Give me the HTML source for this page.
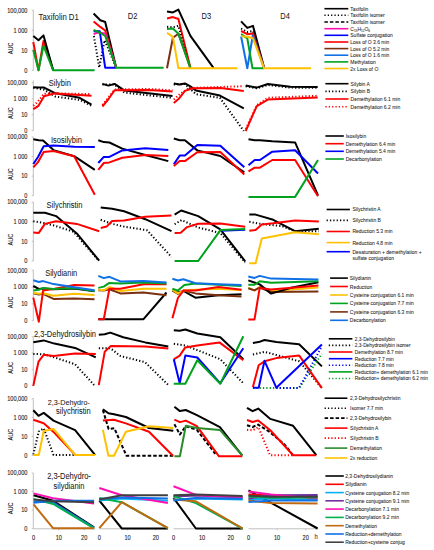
<!DOCTYPE html>
<html><head><meta charset="utf-8"><style>
html,body{margin:0;padding:0;background:#fff;width:434px;height:550px;overflow:hidden}
svg{display:block;font-family:"Liberation Sans",sans-serif}
</style></head><body>
<svg width="434" height="550" viewBox="0 0 434 550">
<rect width="434" height="550" fill="#fff"/>
<line x1="33.3" y1="10.2" x2="33.3" y2="70.4" stroke="#BFBFBF" stroke-width="1"/>
<line x1="31.7" y1="10.2" x2="33.3" y2="10.2" stroke="#BFBFBF" stroke-width="1"/>
<line x1="31.7" y1="30.3" x2="33.3" y2="30.3" stroke="#BFBFBF" stroke-width="1"/>
<line x1="31.7" y1="50.3" x2="33.3" y2="50.3" stroke="#BFBFBF" stroke-width="1"/>
<line x1="31.7" y1="70.4" x2="33.3" y2="70.4" stroke="#BFBFBF" stroke-width="1"/>
<text transform="translate(27.40,12.54) scale(0.86,1)" font-size="6.51" text-anchor="end" fill="#1a1a1a" stroke="#1a1a1a" stroke-width="0.1">100,000</text>
<text transform="translate(27.40,32.61) scale(0.86,1)" font-size="6.51" text-anchor="end" fill="#1a1a1a" stroke="#1a1a1a" stroke-width="0.1">1 000</text>
<text transform="translate(27.40,52.68) scale(0.86,1)" font-size="6.51" text-anchor="end" fill="#1a1a1a" stroke="#1a1a1a" stroke-width="0.1">10</text>
<text transform="translate(27.40,72.74) scale(0.86,1)" font-size="6.51" text-anchor="end" fill="#1a1a1a" stroke="#1a1a1a" stroke-width="0.1">0</text>
<text x="0" y="0" font-size="6.5" text-anchor="middle" fill="#1a1a1a" stroke="#1a1a1a" stroke-width="0.08" transform="translate(13.2,48.4) rotate(-90) scale(0.86,1)">AUC</text>
<line x1="33.3" y1="80.4" x2="33.3" y2="130.6" stroke="#BFBFBF" stroke-width="1"/>
<line x1="31.7" y1="82.8" x2="33.3" y2="82.8" stroke="#BFBFBF" stroke-width="1"/>
<line x1="31.7" y1="98.7" x2="33.3" y2="98.7" stroke="#BFBFBF" stroke-width="1"/>
<line x1="31.7" y1="114.7" x2="33.3" y2="114.7" stroke="#BFBFBF" stroke-width="1"/>
<line x1="31.7" y1="130.6" x2="33.3" y2="130.6" stroke="#BFBFBF" stroke-width="1"/>
<text transform="translate(27.40,85.14) scale(0.86,1)" font-size="6.51" text-anchor="end" fill="#1a1a1a" stroke="#1a1a1a" stroke-width="0.1">100,000</text>
<text transform="translate(27.40,101.08) scale(0.86,1)" font-size="6.51" text-anchor="end" fill="#1a1a1a" stroke="#1a1a1a" stroke-width="0.1">1 000</text>
<text transform="translate(27.40,117.01) scale(0.86,1)" font-size="6.51" text-anchor="end" fill="#1a1a1a" stroke="#1a1a1a" stroke-width="0.1">10</text>
<text transform="translate(27.40,132.94) scale(0.86,1)" font-size="6.51" text-anchor="end" fill="#1a1a1a" stroke="#1a1a1a" stroke-width="0.1">0</text>
<text x="0" y="0" font-size="6.5" text-anchor="middle" fill="#1a1a1a" stroke="#1a1a1a" stroke-width="0.08" transform="translate(13.2,113.2) rotate(-90) scale(0.86,1)">AUC</text>
<line x1="33.3" y1="137.0" x2="33.3" y2="195.6" stroke="#BFBFBF" stroke-width="1"/>
<line x1="31.7" y1="137.0" x2="33.3" y2="137.0" stroke="#BFBFBF" stroke-width="1"/>
<line x1="31.7" y1="156.5" x2="33.3" y2="156.5" stroke="#BFBFBF" stroke-width="1"/>
<line x1="31.7" y1="176.1" x2="33.3" y2="176.1" stroke="#BFBFBF" stroke-width="1"/>
<line x1="31.7" y1="195.6" x2="33.3" y2="195.6" stroke="#BFBFBF" stroke-width="1"/>
<text transform="translate(27.40,139.34) scale(0.86,1)" font-size="6.51" text-anchor="end" fill="#1a1a1a" stroke="#1a1a1a" stroke-width="0.1">100,000</text>
<text transform="translate(27.40,158.88) scale(0.86,1)" font-size="6.51" text-anchor="end" fill="#1a1a1a" stroke="#1a1a1a" stroke-width="0.1">1 000</text>
<text transform="translate(27.40,178.41) scale(0.86,1)" font-size="6.51" text-anchor="end" fill="#1a1a1a" stroke="#1a1a1a" stroke-width="0.1">10</text>
<text transform="translate(27.40,197.94) scale(0.86,1)" font-size="6.51" text-anchor="end" fill="#1a1a1a" stroke="#1a1a1a" stroke-width="0.1">0</text>
<text x="0" y="0" font-size="6.5" text-anchor="middle" fill="#1a1a1a" stroke="#1a1a1a" stroke-width="0.08" transform="translate(13.2,174.2) rotate(-90) scale(0.86,1)">AUC</text>
<line x1="33.3" y1="202.1" x2="33.3" y2="261.0" stroke="#BFBFBF" stroke-width="1"/>
<line x1="31.7" y1="202.1" x2="33.3" y2="202.1" stroke="#BFBFBF" stroke-width="1"/>
<line x1="31.7" y1="221.7" x2="33.3" y2="221.7" stroke="#BFBFBF" stroke-width="1"/>
<line x1="31.7" y1="241.4" x2="33.3" y2="241.4" stroke="#BFBFBF" stroke-width="1"/>
<line x1="31.7" y1="261.0" x2="33.3" y2="261.0" stroke="#BFBFBF" stroke-width="1"/>
<text transform="translate(27.40,204.44) scale(0.86,1)" font-size="6.51" text-anchor="end" fill="#1a1a1a" stroke="#1a1a1a" stroke-width="0.1">100,000</text>
<text transform="translate(27.40,224.08) scale(0.86,1)" font-size="6.51" text-anchor="end" fill="#1a1a1a" stroke="#1a1a1a" stroke-width="0.1">1 000</text>
<text transform="translate(27.40,243.71) scale(0.86,1)" font-size="6.51" text-anchor="end" fill="#1a1a1a" stroke="#1a1a1a" stroke-width="0.1">10</text>
<text transform="translate(27.40,263.34) scale(0.86,1)" font-size="6.51" text-anchor="end" fill="#1a1a1a" stroke="#1a1a1a" stroke-width="0.1">0</text>
<text x="0" y="0" font-size="6.5" text-anchor="middle" fill="#1a1a1a" stroke="#1a1a1a" stroke-width="0.08" transform="translate(13.2,239.5) rotate(-90) scale(0.86,1)">AUC</text>
<line x1="33.3" y1="270.2" x2="33.3" y2="320.8" stroke="#BFBFBF" stroke-width="1"/>
<line x1="31.7" y1="270.2" x2="33.3" y2="270.2" stroke="#BFBFBF" stroke-width="1"/>
<line x1="31.7" y1="287.1" x2="33.3" y2="287.1" stroke="#BFBFBF" stroke-width="1"/>
<line x1="31.7" y1="303.9" x2="33.3" y2="303.9" stroke="#BFBFBF" stroke-width="1"/>
<line x1="31.7" y1="320.8" x2="33.3" y2="320.8" stroke="#BFBFBF" stroke-width="1"/>
<text transform="translate(27.40,272.54) scale(0.86,1)" font-size="6.51" text-anchor="end" fill="#1a1a1a" stroke="#1a1a1a" stroke-width="0.1">100,000</text>
<text transform="translate(27.40,289.41) scale(0.86,1)" font-size="6.51" text-anchor="end" fill="#1a1a1a" stroke="#1a1a1a" stroke-width="0.1">1 000</text>
<text transform="translate(27.40,306.28) scale(0.86,1)" font-size="6.51" text-anchor="end" fill="#1a1a1a" stroke="#1a1a1a" stroke-width="0.1">10</text>
<text transform="translate(27.40,323.14) scale(0.86,1)" font-size="6.51" text-anchor="end" fill="#1a1a1a" stroke="#1a1a1a" stroke-width="0.1">0</text>
<text x="0" y="0" font-size="6.5" text-anchor="middle" fill="#1a1a1a" stroke="#1a1a1a" stroke-width="0.08" transform="translate(13.2,302.3) rotate(-90) scale(0.86,1)">AUC</text>
<line x1="33.3" y1="336.7" x2="33.3" y2="385.7" stroke="#BFBFBF" stroke-width="1"/>
<line x1="31.7" y1="336.7" x2="33.3" y2="336.7" stroke="#BFBFBF" stroke-width="1"/>
<line x1="31.7" y1="353.0" x2="33.3" y2="353.0" stroke="#BFBFBF" stroke-width="1"/>
<line x1="31.7" y1="369.4" x2="33.3" y2="369.4" stroke="#BFBFBF" stroke-width="1"/>
<line x1="31.7" y1="385.7" x2="33.3" y2="385.7" stroke="#BFBFBF" stroke-width="1"/>
<text transform="translate(27.40,339.04) scale(0.86,1)" font-size="6.51" text-anchor="end" fill="#1a1a1a" stroke="#1a1a1a" stroke-width="0.1">100,000</text>
<text transform="translate(27.40,355.38) scale(0.86,1)" font-size="6.51" text-anchor="end" fill="#1a1a1a" stroke="#1a1a1a" stroke-width="0.1">1 000</text>
<text transform="translate(27.40,371.71) scale(0.86,1)" font-size="6.51" text-anchor="end" fill="#1a1a1a" stroke="#1a1a1a" stroke-width="0.1">10</text>
<text transform="translate(27.40,388.04) scale(0.86,1)" font-size="6.51" text-anchor="end" fill="#1a1a1a" stroke="#1a1a1a" stroke-width="0.1">0</text>
<text x="0" y="0" font-size="6.5" text-anchor="middle" fill="#1a1a1a" stroke="#1a1a1a" stroke-width="0.08" transform="translate(13.2,367.8) rotate(-90) scale(0.86,1)">AUC</text>
<line x1="33.3" y1="398.6" x2="33.3" y2="455.3" stroke="#BFBFBF" stroke-width="1"/>
<line x1="31.7" y1="398.6" x2="33.3" y2="398.6" stroke="#BFBFBF" stroke-width="1"/>
<line x1="31.7" y1="417.5" x2="33.3" y2="417.5" stroke="#BFBFBF" stroke-width="1"/>
<line x1="31.7" y1="436.4" x2="33.3" y2="436.4" stroke="#BFBFBF" stroke-width="1"/>
<line x1="31.7" y1="455.3" x2="33.3" y2="455.3" stroke="#BFBFBF" stroke-width="1"/>
<text transform="translate(27.40,400.94) scale(0.86,1)" font-size="6.51" text-anchor="end" fill="#1a1a1a" stroke="#1a1a1a" stroke-width="0.1">100,000</text>
<text transform="translate(27.40,419.84) scale(0.86,1)" font-size="6.51" text-anchor="end" fill="#1a1a1a" stroke="#1a1a1a" stroke-width="0.1">1 000</text>
<text transform="translate(27.40,438.74) scale(0.86,1)" font-size="6.51" text-anchor="end" fill="#1a1a1a" stroke="#1a1a1a" stroke-width="0.1">10</text>
<text transform="translate(27.40,457.64) scale(0.86,1)" font-size="6.51" text-anchor="end" fill="#1a1a1a" stroke="#1a1a1a" stroke-width="0.1">0</text>
<text x="0" y="0" font-size="6.5" text-anchor="middle" fill="#1a1a1a" stroke="#1a1a1a" stroke-width="0.08" transform="translate(13.2,434.6) rotate(-90) scale(0.86,1)">AUC</text>
<line x1="33.3" y1="473.0" x2="33.3" y2="528.7" stroke="#BFBFBF" stroke-width="1"/>
<line x1="31.7" y1="473.0" x2="33.3" y2="473.0" stroke="#BFBFBF" stroke-width="1"/>
<line x1="31.7" y1="491.6" x2="33.3" y2="491.6" stroke="#BFBFBF" stroke-width="1"/>
<line x1="31.7" y1="510.1" x2="33.3" y2="510.1" stroke="#BFBFBF" stroke-width="1"/>
<line x1="31.7" y1="528.7" x2="33.3" y2="528.7" stroke="#BFBFBF" stroke-width="1"/>
<text transform="translate(27.40,475.34) scale(0.86,1)" font-size="6.51" text-anchor="end" fill="#1a1a1a" stroke="#1a1a1a" stroke-width="0.1">100,000</text>
<text transform="translate(27.40,493.91) scale(0.86,1)" font-size="6.51" text-anchor="end" fill="#1a1a1a" stroke="#1a1a1a" stroke-width="0.1">1 000</text>
<text transform="translate(27.40,512.48) scale(0.86,1)" font-size="6.51" text-anchor="end" fill="#1a1a1a" stroke="#1a1a1a" stroke-width="0.1">10</text>
<text transform="translate(27.40,531.04) scale(0.86,1)" font-size="6.51" text-anchor="end" fill="#1a1a1a" stroke="#1a1a1a" stroke-width="0.1">0</text>
<text x="0" y="0" font-size="6.5" text-anchor="middle" fill="#1a1a1a" stroke="#1a1a1a" stroke-width="0.08" transform="translate(13.2,508.4) rotate(-90) scale(0.86,1)">AUC</text>
<line x1="33.5" y1="528.8" x2="95.3" y2="528.8" stroke="#BFBFBF" stroke-width="1"/>
<text transform="translate(33.50,539.64) scale(0.86,1)" font-size="6.51" text-anchor="middle" fill="#1a1a1a" stroke="#1a1a1a" stroke-width="0.1">0</text>
<line x1="58.8" y1="528.8" x2="58.8" y2="530.3" stroke="#BFBFBF" stroke-width="1"/>
<text transform="translate(58.83,539.64) scale(0.86,1)" font-size="6.51" text-anchor="middle" fill="#1a1a1a" stroke="#1a1a1a" stroke-width="0.1">10</text>
<line x1="84.2" y1="528.8" x2="84.2" y2="530.3" stroke="#BFBFBF" stroke-width="1"/>
<text transform="translate(84.16,539.64) scale(0.86,1)" font-size="6.51" text-anchor="middle" fill="#1a1a1a" stroke="#1a1a1a" stroke-width="0.1">20</text>
<line x1="99.2" y1="528.8" x2="168.3" y2="528.8" stroke="#BFBFBF" stroke-width="1"/>
<text transform="translate(99.20,539.64) scale(0.86,1)" font-size="6.51" text-anchor="middle" fill="#1a1a1a" stroke="#1a1a1a" stroke-width="0.1">0</text>
<line x1="127.5" y1="528.8" x2="127.5" y2="530.3" stroke="#BFBFBF" stroke-width="1"/>
<text transform="translate(127.52,539.64) scale(0.86,1)" font-size="6.51" text-anchor="middle" fill="#1a1a1a" stroke="#1a1a1a" stroke-width="0.1">10</text>
<line x1="155.8" y1="528.8" x2="155.8" y2="530.3" stroke="#BFBFBF" stroke-width="1"/>
<text transform="translate(155.84,539.64) scale(0.86,1)" font-size="6.51" text-anchor="middle" fill="#1a1a1a" stroke="#1a1a1a" stroke-width="0.1">20</text>
<line x1="173.5" y1="528.8" x2="243.3" y2="528.8" stroke="#BFBFBF" stroke-width="1"/>
<text transform="translate(173.50,539.64) scale(0.86,1)" font-size="6.51" text-anchor="middle" fill="#1a1a1a" stroke="#1a1a1a" stroke-width="0.1">0</text>
<line x1="202.1" y1="528.8" x2="202.1" y2="530.3" stroke="#BFBFBF" stroke-width="1"/>
<text transform="translate(202.11,539.64) scale(0.86,1)" font-size="6.51" text-anchor="middle" fill="#1a1a1a" stroke="#1a1a1a" stroke-width="0.1">10</text>
<line x1="230.7" y1="528.8" x2="230.7" y2="530.3" stroke="#BFBFBF" stroke-width="1"/>
<text transform="translate(230.71,539.64) scale(0.86,1)" font-size="6.51" text-anchor="middle" fill="#1a1a1a" stroke="#1a1a1a" stroke-width="0.1">20</text>
<line x1="248.5" y1="528.8" x2="318.3" y2="528.8" stroke="#BFBFBF" stroke-width="1"/>
<text transform="translate(248.50,539.64) scale(0.86,1)" font-size="6.51" text-anchor="middle" fill="#1a1a1a" stroke="#1a1a1a" stroke-width="0.1">0</text>
<line x1="277.1" y1="528.8" x2="277.1" y2="530.3" stroke="#BFBFBF" stroke-width="1"/>
<text transform="translate(277.11,539.64) scale(0.86,1)" font-size="6.51" text-anchor="middle" fill="#1a1a1a" stroke="#1a1a1a" stroke-width="0.1">10</text>
<line x1="305.7" y1="528.8" x2="305.7" y2="530.3" stroke="#BFBFBF" stroke-width="1"/>
<text transform="translate(305.71,539.64) scale(0.86,1)" font-size="6.51" text-anchor="middle" fill="#1a1a1a" stroke="#1a1a1a" stroke-width="0.1">20</text>
<text transform="translate(316.20,539.27) scale(0.92,1)" font-size="6.30" text-anchor="middle" fill="#1a1a1a" stroke="#1a1a1a" stroke-width="0.05">h</text>
<text transform="translate(38.60,20.05) scale(0.92,1)" font-size="8.48" text-anchor="start" fill="#1a1a1a" stroke="#1a1a1a" stroke-width="0.05">Taxifolin D1</text>
<text transform="translate(132.50,18.53) scale(0.92,1)" font-size="8.15" text-anchor="middle" fill="#1a1a1a" stroke="#1a1a1a" stroke-width="0.05">D2</text>
<text transform="translate(206.30,18.53) scale(0.92,1)" font-size="8.15" text-anchor="middle" fill="#1a1a1a" stroke="#1a1a1a" stroke-width="0.05">D3</text>
<text transform="translate(285.10,18.73) scale(0.92,1)" font-size="8.15" text-anchor="middle" fill="#1a1a1a" stroke="#1a1a1a" stroke-width="0.05">D4</text>
<text transform="translate(59.80,86.13) scale(0.92,1)" font-size="8.15" text-anchor="middle" fill="#1a1a1a" stroke="#1a1a1a" stroke-width="0.05">Silybin</text>
<text transform="translate(66.40,142.73) scale(0.92,1)" font-size="8.15" text-anchor="middle" fill="#1a1a1a" stroke="#1a1a1a" stroke-width="0.05">Isosilybin</text>
<text transform="translate(64.50,207.83) scale(0.92,1)" font-size="8.15" text-anchor="middle" fill="#1a1a1a" stroke="#1a1a1a" stroke-width="0.05">Silychristin</text>
<text transform="translate(61.20,276.33) scale(0.92,1)" font-size="8.15" text-anchor="middle" fill="#1a1a1a" stroke="#1a1a1a" stroke-width="0.05">Silydianin</text>
<text transform="translate(65.00,337.13) scale(0.92,1)" font-size="8.15" text-anchor="middle" fill="#1a1a1a" stroke="#1a1a1a" stroke-width="0.05">2,3-Dehydrosilybin</text>
<text transform="translate(68.80,404.82) scale(0.92,1)" font-size="7.83" text-anchor="middle" fill="#1a1a1a" stroke="#1a1a1a" stroke-width="0.05">2,3-Dehydro-</text>
<text transform="translate(73.40,414.23) scale(0.92,1)" font-size="8.15" text-anchor="middle" fill="#1a1a1a" stroke="#1a1a1a" stroke-width="0.05">silychristin</text>
<text transform="translate(69.00,479.23) scale(0.92,1)" font-size="8.15" text-anchor="middle" fill="#1a1a1a" stroke="#1a1a1a" stroke-width="0.05">2,3-Dehydro-</text>
<text transform="translate(69.00,488.93) scale(0.92,1)" font-size="8.15" text-anchor="middle" fill="#1a1a1a" stroke="#1a1a1a" stroke-width="0.05">silydianin</text>
<polyline points="33.3,42.0 38.5,70.3 43.5,41.0 53.2,70.3" fill="none" stroke="#FF0000" stroke-width="2.0" stroke-linejoin="round"/>
<polyline points="33.3,35.9 38.5,40.3 43.5,35.4 53.2,70.3" fill="none" stroke="#000000" stroke-width="2.0" stroke-linejoin="round"/>
<polyline points="33.3,50.1 38.5,70.3 43.5,45.8 53.2,70.3 94.6,70.3" fill="none" stroke="#00A21E" stroke-width="2.0" stroke-linejoin="round"/>
<polyline points="93.9,36.0 99.2,67.5 104.6,40.3 116.2,67.7" fill="none" stroke="#000000" stroke-width="2.0" stroke-linejoin="round" stroke-dasharray="1.25 2.1"/>
<polyline points="93.6,13.5 100.3,20.2 105.2,22.0 116.2,67.7" fill="none" stroke="#000000" stroke-width="2.0" stroke-linejoin="round"/>
<polyline points="93.6,21.4 100.3,26.9 105.2,30.5 116.2,67.7" fill="none" stroke="#FF0000" stroke-width="2.0" stroke-linejoin="round"/>
<polyline points="93.6,34.2 97.3,32.6 105.2,33.5 116.2,67.7" fill="none" stroke="#FF10B0" stroke-width="2.0" stroke-linejoin="round"/>
<polyline points="93.6,31.2 99.7,31.2 105.2,67.7 116.2,67.7" fill="none" stroke="#0000FF" stroke-width="2.0" stroke-linejoin="round"/>
<polyline points="93.6,29.9 100.3,33.0 105.2,36.0 116.2,67.7 163.6,67.7" fill="none" stroke="#00A21E" stroke-width="2.0" stroke-linejoin="round"/>
<polyline points="167.0,11.4 172.9,12.4 178.4,9.6 190.4,35.9 213.5,67.8" fill="none" stroke="#000000" stroke-width="2.0" stroke-linejoin="round"/>
<polyline points="167.0,18.4 172.9,17.1 178.4,19.0 190.4,67.8" fill="none" stroke="#FF0000" stroke-width="2.0" stroke-linejoin="round"/>
<polyline points="167.0,26.8 172.9,27.3 178.4,25.8 190.0,67.8" fill="none" stroke="#000000" stroke-width="2.0" stroke-linejoin="round" stroke-dasharray="1.25 2.1"/>
<polyline points="167.0,68.2 172.9,37.8 178.4,33.7 190.4,67.8" fill="none" stroke="#7A3010" stroke-width="2.0" stroke-linejoin="round"/>
<polyline points="167.0,29.1 172.9,28.6 178.4,33.7 190.4,67.8" fill="none" stroke="#00A21E" stroke-width="2.0" stroke-linejoin="round"/>
<polyline points="167.0,32.8 172.9,36.9 178.4,68.2 237.4,68.2" fill="none" stroke="#FFC000" stroke-width="2.0" stroke-linejoin="round"/>
<polyline points="241.1,28.5 247.3,32.0 253.0,31.0 264.1,67.8" fill="none" stroke="#000000" stroke-width="2.0" stroke-linejoin="round" stroke-dasharray="1.25 2.1"/>
<polyline points="241.1,21.4 247.3,27.9 253.0,25.9 264.1,67.8" fill="none" stroke="#000000" stroke-width="2.0" stroke-linejoin="round"/>
<polyline points="241.1,31.0 247.3,34.2 253.0,33.6 264.1,67.8" fill="none" stroke="#FF0000" stroke-width="2.0" stroke-linejoin="round"/>
<polyline points="241.1,36.5 247.3,68.3 252.8,35.5 264.1,68.2" fill="none" stroke="#1070E6" stroke-width="2.0" stroke-linejoin="round"/>
<polyline points="241.1,34.2 247.3,38.3 252.5,68.3 264.1,68.3" fill="none" stroke="#00A21E" stroke-width="2.0" stroke-linejoin="round"/>
<polyline points="241.1,36.2 247.3,36.7 253.0,38.3 264.1,68.3 311.0,68.3" fill="none" stroke="#FFC000" stroke-width="2.0" stroke-linejoin="round"/>
<polyline points="33.3,87.8 44.1,89.7 55.4,96.6 79.6,99.9 91.5,105.8" fill="none" stroke="#000000" stroke-width="2.0" stroke-linejoin="round" stroke-dasharray="1.25 2.1"/>
<polyline points="33.3,87.2 38.8,87.6 44.1,87.6 54.6,92.9 79.6,97.8 91.5,104.7" fill="none" stroke="#000000" stroke-width="2.0" stroke-linejoin="round"/>
<polyline points="33.3,105.8 37.7,101.8 44.1,93.7 54.6,93.4 91.5,94.1" fill="none" stroke="#FF0000" stroke-width="2.0" stroke-linejoin="round" stroke-dasharray="1.25 2.1"/>
<polyline points="33.3,109.1 38.5,105.8 44.1,96.2 54.6,93.4 91.5,95.7" fill="none" stroke="#FF0000" stroke-width="2.0" stroke-linejoin="round"/>
<polyline points="102.4,84.5 114.6,84.6 124.3,92.6 172.5,97.9" fill="none" stroke="#000000" stroke-width="2.0" stroke-linejoin="round" stroke-dasharray="1.25 2.1"/>
<polyline points="102.4,83.9 108.5,85.6 114.6,83.9 124.3,90.4 172.5,96.1" fill="none" stroke="#000000" stroke-width="2.0" stroke-linejoin="round"/>
<polyline points="102.4,105.0 108.5,97.5 114.6,89.5 148.8,89.0 172.5,90.3" fill="none" stroke="#FF0000" stroke-width="2.0" stroke-linejoin="round" stroke-dasharray="1.25 2.1"/>
<polyline points="102.4,106.5 108.5,99.0 114.6,90.3 148.8,89.9 172.5,91.6" fill="none" stroke="#FF0000" stroke-width="2.0" stroke-linejoin="round"/>
<polyline points="173.8,84.5 184.9,84.0 195.9,94.1 219.9,97.8 243.8,131.0" fill="none" stroke="#000000" stroke-width="2.0" stroke-linejoin="round" stroke-dasharray="1.25 2.1"/>
<polyline points="173.8,83.4 179.4,84.5 184.9,83.4 190.4,86.4 195.9,90.4 219.9,95.6 243.8,108.3" fill="none" stroke="#000000" stroke-width="2.0" stroke-linejoin="round"/>
<polyline points="173.8,99.6 180.5,93.5 187.5,89.1 192.8,87.9 243.8,86.2" fill="none" stroke="#FF0000" stroke-width="2.0" stroke-linejoin="round" stroke-dasharray="1.25 2.1"/>
<polyline points="173.8,103.1 178.8,98.8 184.9,90.9 192.8,88.3 220.8,87.9 243.8,90.9" fill="none" stroke="#FF0000" stroke-width="2.0" stroke-linejoin="round"/>
<polyline points="245.7,86.2 256.8,88.3 267.8,85.0 290.3,87.6 317.7,87.8" fill="none" stroke="#000000" stroke-width="2.0" stroke-linejoin="round" stroke-dasharray="1.25 2.1"/>
<polyline points="245.7,85.5 256.8,87.6 267.8,84.0 290.3,86.8 317.7,87.1" fill="none" stroke="#000000" stroke-width="2.0" stroke-linejoin="round"/>
<polyline points="245.7,129.0 256.8,105.2 267.8,97.8 317.7,95.8" fill="none" stroke="#FF0000" stroke-width="2.0" stroke-linejoin="round" stroke-dasharray="1.25 2.1"/>
<polyline points="245.7,131.0 256.8,106.1 267.8,99.6 317.7,97.6" fill="none" stroke="#FF0000" stroke-width="2.0" stroke-linejoin="round"/>
<polyline points="33.3,139.3 38.8,140.3 43.1,140.6 53.5,150.1 74.2,156.2 94.8,169.8" fill="none" stroke="#000000" stroke-width="2.0" stroke-linejoin="round"/>
<polyline points="33.3,164.0 38.0,157.0 43.7,146.2 53.5,145.5 74.2,146.7 94.8,147.1" fill="none" stroke="#0000FF" stroke-width="2.0" stroke-linejoin="round"/>
<polyline points="33.3,167.4 38.0,162.2 43.7,151.9 53.5,151.0 74.2,156.2 94.8,194.7" fill="none" stroke="#FF0000" stroke-width="2.0" stroke-linejoin="round"/>
<polyline points="98.3,140.3 103.8,142.1 109.4,142.5 122.3,148.6 145.3,155.0 168.3,161.1" fill="none" stroke="#000000" stroke-width="2.0" stroke-linejoin="round"/>
<polyline points="98.3,163.0 103.8,156.9 109.4,156.9 122.3,150.4 145.3,148.2 168.3,150.1" fill="none" stroke="#0000FF" stroke-width="2.0" stroke-linejoin="round"/>
<polyline points="98.3,169.8 103.8,163.0 109.4,162.4 122.3,157.8 145.3,155.0 168.3,156.0" fill="none" stroke="#FF0000" stroke-width="2.0" stroke-linejoin="round"/>
<polyline points="173.8,138.5 179.7,140.3 184.9,140.3 197.3,150.4 220.3,156.0 244.3,172.4" fill="none" stroke="#000000" stroke-width="2.0" stroke-linejoin="round"/>
<polyline points="173.8,164.3 179.7,155.6 184.9,155.6 197.3,144.9 220.3,145.8 244.3,167.3" fill="none" stroke="#0000FF" stroke-width="2.0" stroke-linejoin="round"/>
<polyline points="173.8,166.1 179.7,161.1 184.9,161.1 197.3,152.3 220.3,151.9 244.3,174.5" fill="none" stroke="#FF0000" stroke-width="2.0" stroke-linejoin="round"/>
<polyline points="248.5,139.3 254.7,140.3 259.9,140.3 272.3,141.3 295.1,142.4 318.0,195.3" fill="none" stroke="#000000" stroke-width="2.0" stroke-linejoin="round"/>
<polyline points="248.5,165.2 254.7,160.0 259.9,160.0 272.3,151.7 295.1,150.2 318.0,173.5" fill="none" stroke="#0000FF" stroke-width="2.0" stroke-linejoin="round"/>
<polyline points="248.5,171.4 254.7,167.7 259.9,167.7 272.3,160.0 295.1,160.0 318.0,196.3" fill="none" stroke="#FF0000" stroke-width="2.0" stroke-linejoin="round"/>
<polyline points="248.5,196.9 295.1,196.9 318.0,160.0" fill="none" stroke="#00A21E" stroke-width="2.0" stroke-linejoin="round"/>
<polyline points="33.3,221.3 44.0,223.0 54.4,225.6 73.4,231.7 98.4,260.2" fill="none" stroke="#000000" stroke-width="2.0" stroke-linejoin="round" stroke-dasharray="1.25 2.1"/>
<polyline points="33.3,212.7 38.8,212.7 44.9,212.7 56.1,216.1 76.8,233.4 99.2,260.7" fill="none" stroke="#000000" stroke-width="2.0" stroke-linejoin="round"/>
<polyline points="33.3,232.6 38.8,232.9 44.9,223.9 56.1,221.3 76.8,223.9 99.2,231.2" fill="none" stroke="#FF0000" stroke-width="2.0" stroke-linejoin="round"/>
<polyline points="100.7,219.8 112.1,223.8 124.1,226.6 147.1,230.3 171.5,257.0" fill="none" stroke="#000000" stroke-width="2.0" stroke-linejoin="round" stroke-dasharray="1.25 2.1"/>
<polyline points="100.7,207.6 112.1,208.7 124.1,211.3 145.3,219.2 171.5,231.2" fill="none" stroke="#000000" stroke-width="2.0" stroke-linejoin="round"/>
<polyline points="100.7,227.9 106.6,226.6 112.1,221.0 124.1,220.5 145.3,216.8 171.5,215.5" fill="none" stroke="#FF0000" stroke-width="2.0" stroke-linejoin="round"/>
<polyline points="174.6,224.2 181.6,220.1 198.2,227.5 220.3,233.0 245.2,262.5" fill="none" stroke="#000000" stroke-width="2.0" stroke-linejoin="round" stroke-dasharray="1.25 2.1"/>
<polyline points="174.6,214.6 181.2,210.5 198.2,216.1 220.3,229.3 245.2,261.3" fill="none" stroke="#000000" stroke-width="2.0" stroke-linejoin="round"/>
<polyline points="174.6,233.0 180.7,232.7 187.1,227.1 198.2,223.8 220.3,223.6 245.2,226.8" fill="none" stroke="#FF0000" stroke-width="2.0" stroke-linejoin="round"/>
<polyline points="220.6,230.7 245.2,229.8" fill="none" stroke="#0000FF" stroke-width="2.0" stroke-linejoin="round"/>
<polyline points="174.6,261.0 198.2,261.0 220.6,229.9 245.2,228.9" fill="none" stroke="#00A21E" stroke-width="2.0" stroke-linejoin="round"/>
<polyline points="249.3,221.8 260.7,223.9 281.5,226.0 295.0,231.2 318.8,231.2" fill="none" stroke="#000000" stroke-width="2.0" stroke-linejoin="round" stroke-dasharray="1.25 2.1"/>
<polyline points="249.3,214.6 255.6,214.6 273.2,219.8 295.0,231.2 318.8,228.7" fill="none" stroke="#000000" stroke-width="2.0" stroke-linejoin="round"/>
<polyline points="249.3,230.8 255.6,230.1 261.8,224.5 273.2,223.3 295.0,220.4 318.8,221.4" fill="none" stroke="#FF0000" stroke-width="2.0" stroke-linejoin="round"/>
<polyline points="249.3,263.3 255.6,263.3 261.8,238.4 295.0,232.2 318.8,234.3" fill="none" stroke="#FFC000" stroke-width="2.0" stroke-linejoin="round"/>
<polyline points="33.3,286.0 38.8,288.9 43.1,288.4 53.5,289.2 74.2,288.4 94.5,291.3" fill="none" stroke="#000000" stroke-width="2.0" stroke-linejoin="round"/>
<polyline points="33.3,293.2 38.8,294.4 43.1,293.8 53.5,298.9 74.2,298.4 94.5,299.3" fill="none" stroke="#7A3010" stroke-width="2.0" stroke-linejoin="round"/>
<polyline points="33.3,292.7 38.8,293.8 43.1,293.2 53.5,295.8 74.2,293.8 94.5,295.0" fill="none" stroke="#FFC000" stroke-width="2.0" stroke-linejoin="round"/>
<polyline points="33.3,297.6 38.8,321.8 43.1,290.6 53.5,288.9 74.2,285.1 94.5,285.5" fill="none" stroke="#FF0000" stroke-width="2.0" stroke-linejoin="round"/>
<polyline points="33.3,290.6 38.8,289.8 43.1,288.1 53.5,288.9 74.2,288.1 94.5,291.0" fill="none" stroke="#00A21E" stroke-width="2.0" stroke-linejoin="round"/>
<polyline points="33.3,280.3 38.8,282.0 43.1,281.1 53.5,284.1 74.2,287.2 94.5,290.3" fill="none" stroke="#1070E6" stroke-width="2.0" stroke-linejoin="round"/>
<polyline points="98.3,319.2 143.5,319.2 166.5,292.5" fill="none" stroke="#000000" stroke-width="2.0" stroke-linejoin="round"/>
<polyline points="98.3,290.3 103.8,290.6 109.4,289.2 120.4,293.4 143.5,292.5 166.5,295.3" fill="none" stroke="#7A3010" stroke-width="2.0" stroke-linejoin="round"/>
<polyline points="98.3,289.7 103.8,290.3 109.4,287.0 120.4,291.0 143.5,288.8 166.5,288.8" fill="none" stroke="#FFC000" stroke-width="2.0" stroke-linejoin="round"/>
<polyline points="98.3,319.2 103.8,319.2 109.4,288.8 120.4,288.8 143.5,284.2 166.5,284.2" fill="none" stroke="#FF0000" stroke-width="2.0" stroke-linejoin="round"/>
<polyline points="98.3,287.9 103.8,286.6 109.4,282.9 120.4,283.6 143.5,282.4 166.5,283.6" fill="none" stroke="#00A21E" stroke-width="2.0" stroke-linejoin="round"/>
<polyline points="98.3,275.9 103.8,278.1 109.4,276.8 120.4,281.4 143.5,281.1 166.5,282.4" fill="none" stroke="#1070E6" stroke-width="2.0" stroke-linejoin="round"/>
<polyline points="172.4,290.6 177.9,292.5 183.4,291.0 195.4,297.7 218.5,295.3 241.5,294.3" fill="none" stroke="#000000" stroke-width="2.0" stroke-linejoin="round"/>
<polyline points="172.4,290.3 177.9,294.0 183.4,290.6 195.4,293.4 218.5,295.3 241.5,296.5" fill="none" stroke="#7A3010" stroke-width="2.0" stroke-linejoin="round"/>
<polyline points="172.4,289.7 177.9,293.4 183.4,290.6 195.4,289.7 218.5,288.8 241.5,290.3" fill="none" stroke="#FFC000" stroke-width="2.0" stroke-linejoin="round"/>
<polyline points="172.4,318.3 177.9,298.0 183.4,290.6 195.4,290.6 218.5,287.0 241.5,289.7" fill="none" stroke="#FF0000" stroke-width="2.0" stroke-linejoin="round"/>
<polyline points="172.4,288.8 177.9,290.6 184.4,285.1 195.4,283.6 241.5,286.0" fill="none" stroke="#00A21E" stroke-width="2.0" stroke-linejoin="round"/>
<polyline points="172.4,278.7 177.9,280.5 183.4,279.2 195.4,283.3 218.5,284.2 241.5,285.1" fill="none" stroke="#1070E6" stroke-width="2.0" stroke-linejoin="round"/>
<polyline points="248.3,287.9 254.5,290.4 259.7,286.8 271.1,291.0 318.4,287.5" fill="none" stroke="#FFC000" stroke-width="2.0" stroke-linejoin="round"/>
<polyline points="248.3,288.3 254.5,290.4 259.7,287.5 271.1,292.0 318.4,291.6" fill="none" stroke="#7A3010" stroke-width="2.0" stroke-linejoin="round"/>
<polyline points="248.3,280.4 259.7,284.4 271.1,293.6 290.1,288.1 318.4,282.2" fill="none" stroke="#000000" stroke-width="2.0" stroke-linejoin="round"/>
<polyline points="248.3,319.4 254.5,319.4 259.7,287.9 271.1,289.5 318.4,285.4" fill="none" stroke="#FF0000" stroke-width="2.0" stroke-linejoin="round"/>
<polyline points="248.3,284.8 254.5,284.8 259.7,281.2 271.1,282.7 318.4,281.2" fill="none" stroke="#00A21E" stroke-width="2.0" stroke-linejoin="round"/>
<polyline points="248.3,276.5 254.5,277.9 259.7,275.9 271.1,278.6 318.4,279.6" fill="none" stroke="#1070E6" stroke-width="2.0" stroke-linejoin="round"/>
<polyline points="33.3,353.9 44.0,354.3 54.4,357.4 75.1,364.3 94.1,385.0" fill="none" stroke="#000000" stroke-width="2.0" stroke-linejoin="round" stroke-dasharray="1.25 2.1"/>
<polyline points="33.3,342.2 43.7,340.4 54.4,343.6 75.1,347.9 95.8,357.4" fill="none" stroke="#000000" stroke-width="2.0" stroke-linejoin="round"/>
<polyline points="33.3,385.9 38.5,361.7 43.7,354.8 53.5,356.0 75.1,353.6 95.8,353.9" fill="none" stroke="#FF0000" stroke-width="2.0" stroke-linejoin="round"/>
<polyline points="98.8,348.2 110.3,348.2 120.5,356.0 145.0,362.2 168.3,385.0" fill="none" stroke="#000000" stroke-width="2.0" stroke-linejoin="round" stroke-dasharray="1.25 2.1"/>
<polyline points="98.8,334.8 104.7,334.3 110.3,332.6 123.2,337.3 145.3,342.4 168.3,346.4" fill="none" stroke="#000000" stroke-width="2.0" stroke-linejoin="round"/>
<polyline points="98.8,385.1 104.7,351.8 110.9,345.9 145.3,346.4 168.3,348.6" fill="none" stroke="#FF0000" stroke-width="2.0" stroke-linejoin="round"/>
<polyline points="173.8,343.7 185.3,345.5 197.3,350.1 220.3,359.3 243.3,383.3" fill="none" stroke="#000000" stroke-width="2.0" stroke-linejoin="round" stroke-dasharray="1.25 2.1"/>
<polyline points="173.8,330.2 179.7,330.8 185.3,329.5 197.3,333.5 220.3,337.2 243.3,359.3" fill="none" stroke="#000000" stroke-width="2.0" stroke-linejoin="round"/>
<polyline points="173.8,359.3 179.7,355.6 185.3,347.4 197.3,345.5 219.4,342.4 243.3,360.3" fill="none" stroke="#FF0000" stroke-width="2.0" stroke-linejoin="round"/>
<polyline points="173.8,359.3 179.7,383.3 185.3,355.6 197.3,357.5 220.3,383.3 243.3,348.3" fill="none" stroke="#0000FF" stroke-width="2.0" stroke-linejoin="round"/>
<polyline points="173.8,383.7 185.3,383.7 197.3,360.3 220.3,383.7 243.3,336.3" fill="none" stroke="#00A21E" stroke-width="2.0" stroke-linejoin="round"/>
<polyline points="252.9,354.5 264.5,351.8 276.3,355.0 299.1,361.2 321.9,388.1" fill="none" stroke="#000000" stroke-width="2.0" stroke-linejoin="round" stroke-dasharray="1.25 2.1"/>
<polyline points="252.9,342.9 258.7,342.1 264.5,340.0 276.3,342.1 299.1,344.2 321.9,366.4" fill="none" stroke="#000000" stroke-width="2.0" stroke-linejoin="round"/>
<polyline points="252.9,387.1 258.7,365.3 264.5,361.2 276.3,358.1 299.1,355.4 321.9,388.1" fill="none" stroke="#FF0000" stroke-width="2.0" stroke-linejoin="round"/>
<polyline points="252.9,388.0 299.1,388.0 321.9,353.8" fill="none" stroke="#00A21E" stroke-width="2.0" stroke-linejoin="round" stroke-dasharray="1.25 2.1"/>
<polyline points="276.3,387.9 299.1,387.9 321.9,346.3" fill="none" stroke="#0000FF" stroke-width="2.0" stroke-linejoin="round" stroke-dasharray="1.25 2.1"/>
<polyline points="252.9,387.7 258.7,387.7 264.5,360.8 276.3,387.7 321.9,344.6" fill="none" stroke="#0000FF" stroke-width="2.0" stroke-linejoin="round"/>
<polyline points="33.3,454.6 38.8,431.5 43.7,428.3 53.5,455.0 75.1,455.0" fill="none" stroke="#000000" stroke-width="2.0" stroke-linejoin="round" stroke-dasharray="1.25 2.1"/>
<polyline points="33.3,410.3 38.5,415.8 43.7,412.9 53.5,420.6 75.1,430.2 95.0,454.9" fill="none" stroke="#000000" stroke-width="2.0" stroke-linejoin="round"/>
<polyline points="33.3,419.8 43.7,423.2 53.5,431.9 75.1,454.9" fill="none" stroke="#FF0000" stroke-width="2.0" stroke-linejoin="round"/>
<polyline points="33.3,454.9 38.8,454.9 43.7,431.0 53.5,428.9 75.1,454.9 95.0,454.9" fill="none" stroke="#FFC000" stroke-width="2.0" stroke-linejoin="round"/>
<polyline points="102.9,409.2 108.4,413.3 114.0,414.2 125.9,417.0 149.0,428.0 173.3,430.8" fill="none" stroke="#000000" stroke-width="2.0" stroke-linejoin="round"/>
<polyline points="102.9,410.0 108.6,429.0 114.3,428.2 126.5,455.8 173.3,455.8" fill="none" stroke="#000000" stroke-width="2.0" stroke-linejoin="round" stroke-dasharray="3.5 2"/>
<polyline points="102.9,420.6 114.0,419.7 125.9,423.4 149.0,431.7 172.9,455.7" fill="none" stroke="#FF0000" stroke-width="2.0" stroke-linejoin="round"/>
<polyline points="102.9,429.9 108.4,455.7 114.0,455.7 125.9,431.7 149.0,426.2 173.3,428.0" fill="none" stroke="#FFC000" stroke-width="2.0" stroke-linejoin="round"/>
<polyline points="174.4,406.8 179.9,411.1 185.8,410.0 196.9,415.1 219.9,427.1 242.3,455.5" fill="none" stroke="#000000" stroke-width="2.0" stroke-linejoin="round"/>
<polyline points="174.4,424.3 179.9,434.5 185.8,426.2 196.9,429.9 215.3,453.8" fill="none" stroke="#000000" stroke-width="2.0" stroke-linejoin="round" stroke-dasharray="3.5 2"/>
<polyline points="174.4,419.7 179.9,422.1 185.8,420.6 196.9,426.2 219.0,456.3 242.3,456.3" fill="none" stroke="#FF0000" stroke-width="2.0" stroke-linejoin="round"/>
<polyline points="174.4,456.3 179.9,456.3 185.8,425.8 196.9,428.0 219.9,429.9 242.3,455.5" fill="none" stroke="#2C8C2C" stroke-width="2.0" stroke-linejoin="round"/>
<polyline points="247.0,407.9 252.6,411.2 258.2,408.6 270.3,418.9 293.1,425.8 316.3,455.2" fill="none" stroke="#000000" stroke-width="2.0" stroke-linejoin="round"/>
<polyline points="247.0,429.8 252.6,430.3 258.4,427.2 270.0,455.2 293.1,455.2" fill="none" stroke="#FF0000" stroke-width="2.0" stroke-linejoin="round" stroke-dasharray="1.25 2.1"/>
<polyline points="247.0,425.2 252.6,427.0 258.2,424.6 270.3,432.4 284.8,444.8 293.1,455.2" fill="none" stroke="#000000" stroke-width="2.0" stroke-linejoin="round" stroke-dasharray="3.5 2"/>
<polyline points="247.0,420.0 252.6,422.0 258.2,420.4 270.3,430.3 293.1,455.2 316.3,455.2" fill="none" stroke="#FF0000" stroke-width="2.0" stroke-linejoin="round"/>
<polyline points="33.6,495.3 53.2,500.8 94.1,527.4" fill="none" stroke="#000000" stroke-width="2.0" stroke-linejoin="round"/>
<polyline points="33.6,501.5 53.2,502.3 94.1,527.9" fill="none" stroke="#1A6CD8" stroke-width="2.0" stroke-linejoin="round"/>
<polyline points="33.6,493.4 53.0,498.2 94.1,503.5" fill="none" stroke="#FF10B0" stroke-width="2.0" stroke-linejoin="round"/>
<polyline points="33.6,499.1 53.2,504.0 94.1,528.3" fill="none" stroke="#00B050" stroke-width="2.0" stroke-linejoin="round"/>
<polyline points="33.6,504.4 53.0,528.2 94.1,528.2" fill="none" stroke="#C06A10" stroke-width="2.0" stroke-linejoin="round"/>
<polyline points="33.6,502.7 53.0,500.8 94.1,500.8" fill="none" stroke="#1070E6" stroke-width="2.0" stroke-linejoin="round"/>
<polyline points="33.6,499.5 53.2,501.2 94.1,502.2" fill="none" stroke="#404040" stroke-width="2.0" stroke-linejoin="round"/>
<polyline points="99.3,500.5 121.8,528.5 167.9,528.5" fill="none" stroke="#000000" stroke-width="2.0" stroke-linejoin="round"/>
<polyline points="99.3,500.5 121.8,498.5 167.9,500.8" fill="none" stroke="#00B0F0" stroke-width="2.0" stroke-linejoin="round"/>
<polyline points="99.3,488.0 121.8,495.3 167.9,503.1" fill="none" stroke="#FF10B0" stroke-width="2.0" stroke-linejoin="round"/>
<polyline points="99.3,497.9 121.8,502.2 167.9,528.1" fill="none" stroke="#00B050" stroke-width="2.0" stroke-linejoin="round"/>
<polyline points="99.3,528.1 121.8,502.2 167.9,528.1" fill="none" stroke="#C06A10" stroke-width="2.0" stroke-linejoin="round"/>
<polyline points="99.3,499.0 121.8,497.5 167.9,498.5" fill="none" stroke="#1070E6" stroke-width="2.0" stroke-linejoin="round"/>
<polyline points="99.3,499.6 121.8,495.3 167.9,495.3" fill="none" stroke="#404040" stroke-width="2.0" stroke-linejoin="round"/>
<polyline points="173.5,497.9 195.9,528.5 242.6,528.5" fill="none" stroke="#000000" stroke-width="2.0" stroke-linejoin="round"/>
<polyline points="173.5,499.5 195.9,498.5 242.6,499.5" fill="none" stroke="#00B0F0" stroke-width="2.0" stroke-linejoin="round"/>
<polyline points="173.5,496.5 195.9,495.5 242.6,497.5" fill="none" stroke="#7030A0" stroke-width="2.0" stroke-linejoin="round"/>
<polyline points="173.5,486.3 195.9,494.9 242.6,497.4" fill="none" stroke="#FF10B0" stroke-width="2.0" stroke-linejoin="round"/>
<polyline points="173.5,496.1 195.9,503.1 242.6,528.5" fill="none" stroke="#00B050" stroke-width="2.0" stroke-linejoin="round"/>
<polyline points="173.5,499.6 195.9,501.3 242.6,528.5" fill="none" stroke="#C06A10" stroke-width="2.0" stroke-linejoin="round"/>
<polyline points="173.5,500.5 195.9,497.9 242.6,498.7" fill="none" stroke="#1070E6" stroke-width="2.0" stroke-linejoin="round"/>
<polyline points="173.5,495.3 195.9,494.4 242.6,496.1" fill="none" stroke="#404040" stroke-width="2.0" stroke-linejoin="round"/>
<polyline points="248.5,490.4 317.6,528.5" fill="none" stroke="#000000" stroke-width="2.0" stroke-linejoin="round"/>
<polyline points="248.5,494.5 271.0,495.5 317.6,496.5" fill="none" stroke="#FF0000" stroke-width="2.0" stroke-linejoin="round"/>
<polyline points="248.5,499.5 271.0,498.5 317.6,500.0" fill="none" stroke="#00B0F0" stroke-width="2.0" stroke-linejoin="round"/>
<polyline points="248.5,498.4 271.0,495.3 317.6,494.9" fill="none" stroke="#7030A0" stroke-width="2.0" stroke-linejoin="round"/>
<polyline points="248.5,491.5 271.0,494.4 317.6,498.7" fill="none" stroke="#FF10B0" stroke-width="2.0" stroke-linejoin="round"/>
<polyline points="248.5,496.5 271.0,497.8 317.6,497.4" fill="none" stroke="#00B050" stroke-width="2.0" stroke-linejoin="round"/>
<polyline points="248.5,500.5 271.0,503.1 317.6,503.6" fill="none" stroke="#C06A10" stroke-width="2.0" stroke-linejoin="round"/>
<polyline points="248.5,502.0 271.0,500.5 317.6,500.5" fill="none" stroke="#1070E6" stroke-width="2.0" stroke-linejoin="round"/>
<polyline points="248.5,495.8 271.0,496.7 317.6,496.7" fill="none" stroke="#404040" stroke-width="2.0" stroke-linejoin="round"/>
<polyline points="324.4,8.7 348.3,8.7" fill="none" stroke="#000000" stroke-width="1.6" stroke-linejoin="round"/>
<text transform="translate(350.30,10.66) scale(0.92,1)" font-size="5.43" text-anchor="start" fill="#1a1a1a" stroke="#1a1a1a" stroke-width="0.05">Taxifolin</text>
<polyline points="324.4,15.3 348.3,15.3" fill="none" stroke="#000000" stroke-width="1.6" stroke-linejoin="round" stroke-dasharray="1.25 2.1"/>
<text transform="translate(350.30,17.31) scale(0.92,1)" font-size="5.43" text-anchor="start" fill="#1a1a1a" stroke="#1a1a1a" stroke-width="0.05">Taxifolin isomer</text>
<polyline points="324.4,22.0 348.3,22.0" fill="none" stroke="#000000" stroke-width="1.6" stroke-linejoin="round" stroke-dasharray="3.5 2"/>
<text transform="translate(350.30,23.96) scale(0.92,1)" font-size="5.43" text-anchor="start" fill="#1a1a1a" stroke="#1a1a1a" stroke-width="0.05">Taxifolin isomer</text>
<polyline points="324.4,28.7 348.3,28.7" fill="none" stroke="#FF10B0" stroke-width="1.6" stroke-linejoin="round"/>
<text transform="translate(350.30,30.61) scale(0.92,1)" font-size="5.43" text-anchor="start" fill="#1a1a1a" stroke="#1a1a1a" stroke-width="0.05">C<tspan font-size="3.4" dy="1.2">15</tspan><tspan dy="-1.2">H</tspan><tspan font-size="3.4" dy="1.2">12</tspan><tspan dy="-1.2">O</tspan><tspan font-size="3.4" dy="1.2">6</tspan></text>
<polyline points="324.4,35.3 348.3,35.3" fill="none" stroke="#0000FF" stroke-width="1.6" stroke-linejoin="round"/>
<text transform="translate(350.30,37.26) scale(0.92,1)" font-size="5.43" text-anchor="start" fill="#1a1a1a" stroke="#1a1a1a" stroke-width="0.05">Sulfate conjugation</text>
<polyline points="324.4,42.0 348.3,42.0" fill="none" stroke="#FF0000" stroke-width="1.6" stroke-linejoin="round"/>
<text transform="translate(350.30,43.91) scale(0.92,1)" font-size="5.43" text-anchor="start" fill="#1a1a1a" stroke="#1a1a1a" stroke-width="0.05">Loss of O 3.6 min</text>
<polyline points="324.4,48.6 348.3,48.6" fill="none" stroke="#7A3010" stroke-width="1.6" stroke-linejoin="round"/>
<text transform="translate(350.30,50.56) scale(0.92,1)" font-size="5.43" text-anchor="start" fill="#1a1a1a" stroke="#1a1a1a" stroke-width="0.05">Loss of O 5.2 min</text>
<polyline points="324.4,55.2 348.3,55.2" fill="none" stroke="#1070E6" stroke-width="1.6" stroke-linejoin="round"/>
<text transform="translate(350.30,57.21) scale(0.92,1)" font-size="5.43" text-anchor="start" fill="#1a1a1a" stroke="#1a1a1a" stroke-width="0.05">Loss of O 1.6 min</text>
<polyline points="324.4,61.9 348.3,61.9" fill="none" stroke="#00A21E" stroke-width="1.6" stroke-linejoin="round"/>
<text transform="translate(350.30,63.86) scale(0.92,1)" font-size="5.43" text-anchor="start" fill="#1a1a1a" stroke="#1a1a1a" stroke-width="0.05">Methylation</text>
<polyline points="324.4,68.5 348.3,68.5" fill="none" stroke="#FFC000" stroke-width="1.6" stroke-linejoin="round"/>
<text transform="translate(350.30,70.51) scale(0.92,1)" font-size="5.43" text-anchor="start" fill="#1a1a1a" stroke="#1a1a1a" stroke-width="0.05">2x Loss of O</text>
<polyline points="325.4,83.7 348.5,83.7" fill="none" stroke="#000000" stroke-width="1.6" stroke-linejoin="round"/>
<text transform="translate(350.60,85.66) scale(0.92,1)" font-size="5.43" text-anchor="start" fill="#1a1a1a" stroke="#1a1a1a" stroke-width="0.05">Silybin A</text>
<polyline points="325.4,91.4 348.5,91.4" fill="none" stroke="#000000" stroke-width="1.6" stroke-linejoin="round" stroke-dasharray="1.25 2.1"/>
<text transform="translate(350.60,93.33) scale(0.92,1)" font-size="5.43" text-anchor="start" fill="#1a1a1a" stroke="#1a1a1a" stroke-width="0.05">Silybin B</text>
<polyline points="325.4,99.0 348.5,99.0" fill="none" stroke="#FF0000" stroke-width="1.6" stroke-linejoin="round"/>
<text transform="translate(350.60,101.00) scale(0.92,1)" font-size="5.43" text-anchor="start" fill="#1a1a1a" stroke="#1a1a1a" stroke-width="0.05">Demethylation 6.1 min</text>
<polyline points="325.4,106.7 348.5,106.7" fill="none" stroke="#FF0000" stroke-width="1.6" stroke-linejoin="round" stroke-dasharray="1.25 2.1"/>
<text transform="translate(350.60,108.67) scale(0.92,1)" font-size="5.43" text-anchor="start" fill="#1a1a1a" stroke="#1a1a1a" stroke-width="0.05">Demethylation 6.2 min</text>
<polyline points="325.4,136.0 343.8,136.0" fill="none" stroke="#000000" stroke-width="1.6" stroke-linejoin="round"/>
<text transform="translate(345.70,137.96) scale(0.92,1)" font-size="5.43" text-anchor="start" fill="#1a1a1a" stroke="#1a1a1a" stroke-width="0.05">Isosilybin</text>
<polyline points="325.4,143.7 343.8,143.7" fill="none" stroke="#FF0000" stroke-width="1.6" stroke-linejoin="round"/>
<text transform="translate(345.70,145.63) scale(0.92,1)" font-size="5.43" text-anchor="start" fill="#1a1a1a" stroke="#1a1a1a" stroke-width="0.05">Demethylation 6.4 min</text>
<polyline points="325.4,151.3 343.8,151.3" fill="none" stroke="#0000FF" stroke-width="1.6" stroke-linejoin="round"/>
<text transform="translate(345.70,153.30) scale(0.92,1)" font-size="5.43" text-anchor="start" fill="#1a1a1a" stroke="#1a1a1a" stroke-width="0.05">Demethylation 5.4 min</text>
<polyline points="325.4,159.0 343.8,159.0" fill="none" stroke="#00A21E" stroke-width="1.6" stroke-linejoin="round"/>
<text transform="translate(345.70,160.97) scale(0.92,1)" font-size="5.43" text-anchor="start" fill="#1a1a1a" stroke="#1a1a1a" stroke-width="0.05">Decarbonylation</text>
<polyline points="326.6,209.5 349.9,209.5" fill="none" stroke="#000000" stroke-width="1.6" stroke-linejoin="round"/>
<text transform="translate(352.40,211.46) scale(0.92,1)" font-size="5.43" text-anchor="start" fill="#1a1a1a" stroke="#1a1a1a" stroke-width="0.05">Silychristin A</text>
<polyline points="326.6,220.4 349.9,220.4" fill="none" stroke="#000000" stroke-width="1.6" stroke-linejoin="round" stroke-dasharray="1.25 2.1"/>
<text transform="translate(352.40,222.36) scale(0.92,1)" font-size="5.43" text-anchor="start" fill="#1a1a1a" stroke="#1a1a1a" stroke-width="0.05">Silychristin B</text>
<polyline points="326.6,231.5 349.9,231.5" fill="none" stroke="#FF0000" stroke-width="1.6" stroke-linejoin="round"/>
<text transform="translate(352.40,233.46) scale(0.92,1)" font-size="5.43" text-anchor="start" fill="#1a1a1a" stroke="#1a1a1a" stroke-width="0.05">Reduction 5.3 min</text>
<polyline points="326.6,242.6 349.9,242.6" fill="none" stroke="#FFC000" stroke-width="1.6" stroke-linejoin="round"/>
<text transform="translate(352.40,244.56) scale(0.92,1)" font-size="5.43" text-anchor="start" fill="#1a1a1a" stroke="#1a1a1a" stroke-width="0.05">Reduction 4.8 min</text>
<polyline points="326.6,251.7 349.9,251.7" fill="none" stroke="#0000FF" stroke-width="1.6" stroke-linejoin="round"/>
<text transform="translate(352.40,253.66) scale(0.92,1)" font-size="5.43" text-anchor="start" fill="#1a1a1a" stroke="#1a1a1a" stroke-width="0.05">Desaturation + demethylation +</text>
<text transform="translate(352.40,260.26) scale(0.92,1)" font-size="5.43" text-anchor="start" fill="#1a1a1a" stroke="#1a1a1a" stroke-width="0.05">sulfate conjugation</text>
<polyline points="330.1,278.1 347.9,278.1" fill="none" stroke="#000000" stroke-width="1.6" stroke-linejoin="round"/>
<text transform="translate(349.80,280.06) scale(0.92,1)" font-size="5.43" text-anchor="start" fill="#1a1a1a" stroke="#1a1a1a" stroke-width="0.05">Silydianin</text>
<polyline points="330.1,286.5 347.9,286.5" fill="none" stroke="#FF0000" stroke-width="1.6" stroke-linejoin="round"/>
<text transform="translate(349.80,288.50) scale(0.92,1)" font-size="5.43" text-anchor="start" fill="#1a1a1a" stroke="#1a1a1a" stroke-width="0.05">Reduction</text>
<polyline points="330.1,295.0 347.9,295.0" fill="none" stroke="#FFC000" stroke-width="1.6" stroke-linejoin="round"/>
<text transform="translate(349.80,296.94) scale(0.92,1)" font-size="5.43" text-anchor="start" fill="#1a1a1a" stroke="#1a1a1a" stroke-width="0.05">Cysteine conjugation 6.1 min</text>
<polyline points="330.1,303.4 347.9,303.4" fill="none" stroke="#00A21E" stroke-width="1.6" stroke-linejoin="round"/>
<text transform="translate(349.80,305.38) scale(0.92,1)" font-size="5.43" text-anchor="start" fill="#1a1a1a" stroke="#1a1a1a" stroke-width="0.05">Cysteine conjugation 7.7 min</text>
<polyline points="330.1,311.9 347.9,311.9" fill="none" stroke="#7A3010" stroke-width="1.6" stroke-linejoin="round"/>
<text transform="translate(349.80,313.82) scale(0.92,1)" font-size="5.43" text-anchor="start" fill="#1a1a1a" stroke="#1a1a1a" stroke-width="0.05">Cysteine conjugation 6.3 min</text>
<polyline points="330.1,320.3 347.9,320.3" fill="none" stroke="#1070E6" stroke-width="1.6" stroke-linejoin="round"/>
<text transform="translate(349.80,322.26) scale(0.92,1)" font-size="5.43" text-anchor="start" fill="#1a1a1a" stroke="#1a1a1a" stroke-width="0.05">Decarbonylation</text>
<polyline points="328.8,338.8 352.4,338.8" fill="none" stroke="#000000" stroke-width="1.6" stroke-linejoin="round"/>
<text transform="translate(354.80,340.70) scale(0.92,1)" font-size="5.27" text-anchor="start" fill="#1a1a1a" stroke="#1a1a1a" stroke-width="0.05">2,3-Dehydrosilybin</text>
<polyline points="328.8,345.4 352.4,345.4" fill="none" stroke="#000000" stroke-width="1.6" stroke-linejoin="round" stroke-dasharray="1.25 2.1"/>
<text transform="translate(354.80,347.32) scale(0.92,1)" font-size="5.27" text-anchor="start" fill="#1a1a1a" stroke="#1a1a1a" stroke-width="0.05">2,3-Dehydrosilybin isomer</text>
<polyline points="328.8,352.0 352.4,352.0" fill="none" stroke="#FF0000" stroke-width="1.6" stroke-linejoin="round"/>
<text transform="translate(354.80,353.94) scale(0.92,1)" font-size="5.27" text-anchor="start" fill="#1a1a1a" stroke="#1a1a1a" stroke-width="0.05">Demethylation 8.7 min</text>
<polyline points="328.8,358.7 352.4,358.7" fill="none" stroke="#0000FF" stroke-width="1.6" stroke-linejoin="round"/>
<text transform="translate(354.80,360.56) scale(0.92,1)" font-size="5.27" text-anchor="start" fill="#1a1a1a" stroke="#1a1a1a" stroke-width="0.05">Reduction 7.7 min</text>
<polyline points="328.8,365.3 352.4,365.3" fill="none" stroke="#0000FF" stroke-width="1.6" stroke-linejoin="round" stroke-dasharray="1.25 2.1"/>
<text transform="translate(354.80,367.18) scale(0.92,1)" font-size="5.27" text-anchor="start" fill="#1a1a1a" stroke="#1a1a1a" stroke-width="0.05">Reduction 7.8 min</text>
<polyline points="328.8,371.9 352.4,371.9" fill="none" stroke="#00A21E" stroke-width="1.6" stroke-linejoin="round"/>
<text transform="translate(354.80,373.80) scale(0.92,1)" font-size="5.27" text-anchor="start" fill="#1a1a1a" stroke="#1a1a1a" stroke-width="0.05">Reduction+ demethylation 6.1 min</text>
<polyline points="328.8,378.5 352.4,378.5" fill="none" stroke="#00A21E" stroke-width="1.6" stroke-linejoin="round" stroke-dasharray="1.25 2.1"/>
<text transform="translate(354.80,380.42) scale(0.92,1)" font-size="5.27" text-anchor="start" fill="#1a1a1a" stroke="#1a1a1a" stroke-width="0.05">Reduction+ demethylation 6.2 min</text>
<polyline points="324.6,398.2 347.4,398.2" fill="none" stroke="#000000" stroke-width="1.6" stroke-linejoin="round"/>
<text transform="translate(350.10,400.16) scale(0.92,1)" font-size="5.43" text-anchor="start" fill="#1a1a1a" stroke="#1a1a1a" stroke-width="0.05">2,3-Dehydrosilychristin</text>
<polyline points="324.6,408.2 347.4,408.2" fill="none" stroke="#000000" stroke-width="1.6" stroke-linejoin="round" stroke-dasharray="1.25 2.1"/>
<text transform="translate(350.10,410.13) scale(0.92,1)" font-size="5.43" text-anchor="start" fill="#1a1a1a" stroke="#1a1a1a" stroke-width="0.05">Isomer 7.7 min</text>
<polyline points="324.6,418.1 347.4,418.1" fill="none" stroke="#000000" stroke-width="1.6" stroke-linejoin="round" stroke-dasharray="3.5 2"/>
<text transform="translate(350.10,420.10) scale(0.92,1)" font-size="5.43" text-anchor="start" fill="#1a1a1a" stroke="#1a1a1a" stroke-width="0.05">2,3-Dehydrosilybin</text>
<polyline points="324.6,428.1 347.4,428.1" fill="none" stroke="#FF0000" stroke-width="1.6" stroke-linejoin="round"/>
<text transform="translate(350.10,430.07) scale(0.92,1)" font-size="5.43" text-anchor="start" fill="#1a1a1a" stroke="#1a1a1a" stroke-width="0.05">Silychristin A</text>
<polyline points="324.6,438.1 347.4,438.1" fill="none" stroke="#FF0000" stroke-width="1.6" stroke-linejoin="round" stroke-dasharray="1.25 2.1"/>
<text transform="translate(350.10,440.04) scale(0.92,1)" font-size="5.43" text-anchor="start" fill="#1a1a1a" stroke="#1a1a1a" stroke-width="0.05">Silychristin B</text>
<polyline points="324.6,448.1 347.4,448.1" fill="none" stroke="#2C8C2C" stroke-width="1.6" stroke-linejoin="round"/>
<text transform="translate(350.10,450.01) scale(0.92,1)" font-size="5.43" text-anchor="start" fill="#1a1a1a" stroke="#1a1a1a" stroke-width="0.05">Demethylation</text>
<polyline points="324.6,458.0 347.4,458.0" fill="none" stroke="#FFC000" stroke-width="1.6" stroke-linejoin="round"/>
<text transform="translate(350.10,459.98) scale(0.92,1)" font-size="5.43" text-anchor="start" fill="#1a1a1a" stroke="#1a1a1a" stroke-width="0.05">2x reduction</text>
<polyline points="325.4,476.0 343.8,476.0" fill="none" stroke="#000000" stroke-width="1.6" stroke-linejoin="round"/>
<text transform="translate(345.20,477.96) scale(0.92,1)" font-size="5.43" text-anchor="start" fill="#1a1a1a" stroke="#1a1a1a" stroke-width="0.05">2,3-Dehydrosilydianin</text>
<polyline points="325.4,484.3 343.8,484.3" fill="none" stroke="#FF0000" stroke-width="1.6" stroke-linejoin="round"/>
<text transform="translate(345.20,486.24) scale(0.92,1)" font-size="5.43" text-anchor="start" fill="#1a1a1a" stroke="#1a1a1a" stroke-width="0.05">Silydianin</text>
<polyline points="325.4,492.6 343.8,492.6" fill="none" stroke="#00B0F0" stroke-width="1.6" stroke-linejoin="round"/>
<text transform="translate(345.20,494.52) scale(0.92,1)" font-size="5.43" text-anchor="start" fill="#1a1a1a" stroke="#1a1a1a" stroke-width="0.05">Cysteine conjugation 8.2 min</text>
<polyline points="325.4,500.8 343.8,500.8" fill="none" stroke="#7030A0" stroke-width="1.6" stroke-linejoin="round"/>
<text transform="translate(345.20,502.80) scale(0.92,1)" font-size="5.43" text-anchor="start" fill="#1a1a1a" stroke="#1a1a1a" stroke-width="0.05">Cysteine conjugation 9.1 min</text>
<polyline points="325.4,509.1 343.8,509.1" fill="none" stroke="#FF10B0" stroke-width="1.6" stroke-linejoin="round"/>
<text transform="translate(345.20,511.08) scale(0.92,1)" font-size="5.43" text-anchor="start" fill="#1a1a1a" stroke="#1a1a1a" stroke-width="0.05">Decarbonylation 7.1 min</text>
<polyline points="325.4,517.4 343.8,517.4" fill="none" stroke="#00B050" stroke-width="1.6" stroke-linejoin="round"/>
<text transform="translate(345.20,519.36) scale(0.92,1)" font-size="5.43" text-anchor="start" fill="#1a1a1a" stroke="#1a1a1a" stroke-width="0.05">Decarbonylation 9.2 min</text>
<polyline points="325.4,525.7 343.8,525.7" fill="none" stroke="#C06A10" stroke-width="1.6" stroke-linejoin="round"/>
<text transform="translate(345.20,527.64) scale(0.92,1)" font-size="5.43" text-anchor="start" fill="#1a1a1a" stroke="#1a1a1a" stroke-width="0.05">Demethylation</text>
<polyline points="325.4,534.0 343.8,534.0" fill="none" stroke="#1070E6" stroke-width="1.6" stroke-linejoin="round"/>
<text transform="translate(345.20,535.92) scale(0.92,1)" font-size="5.43" text-anchor="start" fill="#1a1a1a" stroke="#1a1a1a" stroke-width="0.05">Reduction+demethylation</text>
<polyline points="325.4,542.2 343.8,542.2" fill="none" stroke="#404040" stroke-width="1.6" stroke-linejoin="round"/>
<text transform="translate(345.20,544.20) scale(0.92,1)" font-size="5.43" text-anchor="start" fill="#1a1a1a" stroke="#1a1a1a" stroke-width="0.05">Reduction+cysteine conjug</text>
</svg>
</body></html>
